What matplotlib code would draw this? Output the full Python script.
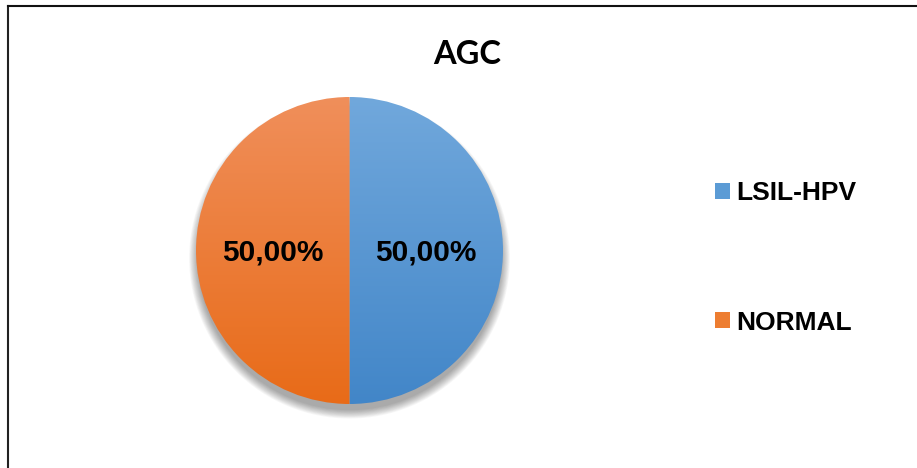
import numpy as np
import matplotlib
matplotlib.use("Agg")
import matplotlib.pyplot as plt
from matplotlib.patches import Patch, Circle
from matplotlib.lines import Line2D
from matplotlib.colors import LinearSegmentedColormap

title = "AGC"
categories = ["LSIL-HPV", "NORMAL"]
values = [50.0, 50.0]
top_colors = ["#71A8DC", "#F08F5B"]
bottom_colors = ["#4286C8", "#E86B18"]
legend_colors = ["#5B9BD5", "#ED7D31"]

W, H = 917, 468
fig = plt.figure(figsize=(W / 100, H / 100), dpi=100)
fig.patch.set_facecolor("white")

# pie axes placement (pixel-based)
cx, cy, R = 349.5, 250.5, 153.5
half = R * 1.2
ax = fig.add_axes([(cx - half) / W, (H - cy - half) / H, 2 * half / W, 2 * half / H])
ax.axis("off")

# soft shadow (offset downward)
for i in range(12):
    r = 0.99 + 0.005 * i
    ax.add_patch(Circle((0.0, -0.05), r, facecolor="black", edgecolor="none",
                        alpha=0.03, zorder=0))

def fmt(p):
    return f"{p:.2f}%".replace(".", ",")

wedges, texts, autotexts = ax.pie(values, startangle=90, counterclock=False,
                                  radius=1.0, autopct=fmt, pctdistance=0.5,
                                  textprops=dict(fontsize=21.5, fontweight="bold",
                                                 family="Liberation Sans", color="black"))
for w, tc, bc in zip(wedges, top_colors, bottom_colors):
    w.set_facecolor("none")
    w.set_edgecolor("none")
    cmap = LinearSegmentedColormap.from_list("g", [bc, tc])
    grad = np.linspace(0, 1, 256).reshape(-1, 1)
    im = ax.imshow(grad, cmap=cmap, extent=(-1, 1, -1, 1), origin="lower",
                   aspect="auto", zorder=1)
    im.set_clip_path(w)
for t in autotexts:
    t.set_zorder(5)
    t.set_y(t.get_position()[1] - 0.01)

ax.set_xlim(-1.2, 1.2)
ax.set_ylim(-1.2, 1.2)
ax.set_aspect("equal")
ax.axis("off")

# title
fig.text(467.5 / W, 1 - 54 / H, title, ha="center", va="center",
         fontsize=23.5, fontweight="bold", family="Lato")

# legend
handles = [Patch(facecolor=c, edgecolor="none") for c in legend_colors]
leg = fig.legend(handles, categories, loc="center left",
                 bbox_to_anchor=(715 / W, 1 - 258 / H),
                 frameon=False, handlelength=0.55, handleheight=0.55,
                 handletextpad=0.27, labelspacing=4.0, borderpad=0, borderaxespad=0,
                 prop=dict(size=19, weight="bold", family="Liberation Sans"))

# border (left and top visible)
fig.add_artist(Line2D([7.5 / W, 7.5 / W], [0, 1 - 5.5 / H], transform=fig.transFigure,
                      color="#222222", lw=1.5))
fig.add_artist(Line2D([7.5 / W, 1], [1 - 5.5 / H, 1 - 5.5 / H], transform=fig.transFigure,
                      color="#111111", lw=1.5))

fig.savefig("out.png", dpi=100)
